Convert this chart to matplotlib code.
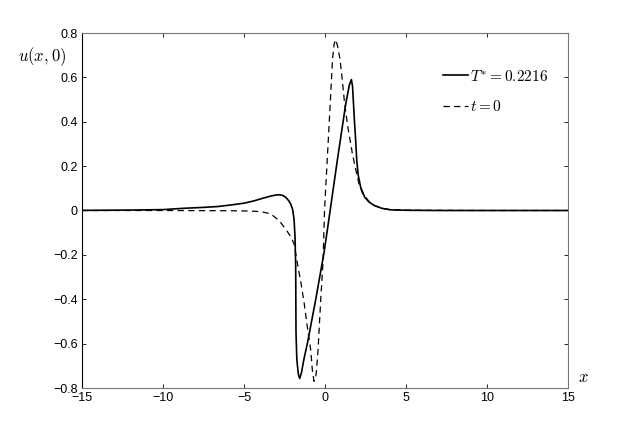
import numpy as np
import matplotlib
matplotlib.use('Agg')
import matplotlib.pyplot as plt

plt.rcParams['mathtext.fontset'] = 'cm'
plt.rcParams['font.family'] = ['Liberation Sans', 'DejaVu Sans']

# solution at T* = 0.2216
x_T = [-15, -12, -10, -8.7, -7.5, -6.6, -5.8, -5.0, -4.4, -3.8, -3.3, -3.0,
       -2.84, -2.6, -2.4, -2.25, -2.12, -2.0, -1.91, -1.85, -1.81, -1.80,
       -1.79, -1.74, -1.70, -1.64, -1.56, -1.45, -1.3, -1.09, -0.57, -0.06,
       0.2, 0.76, 1.28, 1.5, 1.63, 1.70, 1.76, 1.82, 1.89, 1.96, 2.05, 2.2,
       2.45, 2.72, 3.03, 3.5, 4.06, 5, 7, 10, 15]
u_T = [0.0005, 0.002, 0.004, 0.01, 0.014, 0.018, 0.025, 0.033, 0.043, 0.056,
       0.066, 0.070, 0.071, 0.068, 0.058, 0.045, 0.030, 0.005, -0.04, -0.12,
       -0.25, -0.40, -0.55, -0.67, -0.70, -0.74, -0.757, -0.73, -0.67, -0.60,
       -0.40, -0.19, -0.06, 0.226, 0.48, 0.565, 0.59, 0.56, 0.48, 0.40, 0.32,
       0.226, 0.16, 0.105, 0.06, 0.038, 0.023, 0.01, 0.003, 0.001, 0.0, 0.0, 0.0]

# initial condition t = 0
x_0 = [-15, -10, -6, -5, -4.5, -3.97, -3.35, -2.84, -2.43, -2.1, -1.91, -1.70,
       -1.50, -1.30, -1.10, -0.88, -0.78, -0.68, -0.55, -0.43, -0.27, -0.12,
       -0.03, 0.19, 0.35, 0.46, 0.56, 0.66, 0.78, 0.93, 1.05, 1.2, 1.4, 1.59,
       1.69, 2.0, 2.1, 2.3, 2.72, 3.03, 3.5, 4.06, 5, 6, 10, 15]
u_0 = [0.0, 0.0, -0.001, -0.002, -0.003, -0.005, -0.015, -0.045, -0.083,
       -0.12, -0.15, -0.24, -0.32, -0.41, -0.52, -0.63, -0.72, -0.77, -0.74,
       -0.63, -0.41, -0.23, 0.0, 0.30, 0.52, 0.68, 0.75, 0.77, 0.74, 0.68,
       0.60, 0.49, 0.38, 0.30, 0.256, 0.15, 0.12, 0.08, 0.04, 0.023, 0.01,
       0.003, 0.002, 0.001, 0.0, 0.0]

x_ticks = [-15, -10, -5, 0, 5, 10, 15]
y_ticks = [-0.8, -0.6, -0.4, -0.2, 0, 0.2, 0.4, 0.6, 0.8]

fig = plt.figure(figsize=(6.27, 4.36), dpi=100)
ax = fig.add_axes([82/627, 1 - 388/436, 486/627, 355/436])

ax.plot(x_T, u_T, color='black', lw=1.2, label=r'$T^{*}=0.2216$')
ax.plot(x_0, u_0, color='black', lw=0.9, ls=(0, (5, 3.5)), label=r'$t=0$')

ax.set_xlim(-15, 15)
ax.set_ylim(-0.8, 0.8)
ax.set_xticks(x_ticks)
ax.set_yticks(y_ticks)
ax.set_xticklabels([('%g' % v).replace('-', '\u2212') for v in x_ticks])
ax.set_yticklabels([('%g' % v).replace('-', '\u2212') for v in y_ticks])
ax.tick_params(direction='in', length=3, width=0.6, top=True, right=True,
               labelsize=9, colors='black', pad=3)
for side in ['top', 'bottom', 'right']:
    ax.spines[side].set_color('#777777')
ax.spines['left'].set_color('black')

fig.text(42/627, 1 - 57/436, r'$u(x,0)$', fontsize=12, ha='center', va='center')
fig.text(583/627, 1 - 377/436, r'$x$', fontsize=12, ha='center', va='center')

ax.legend(loc='upper right', bbox_to_anchor=(1.0, 0.955), frameon=False,
          fontsize=11, handlelength=1.7, handletextpad=0.1, labelspacing=1.0,
          borderaxespad=0.9)

fig.savefig('out.png', dpi=100)
